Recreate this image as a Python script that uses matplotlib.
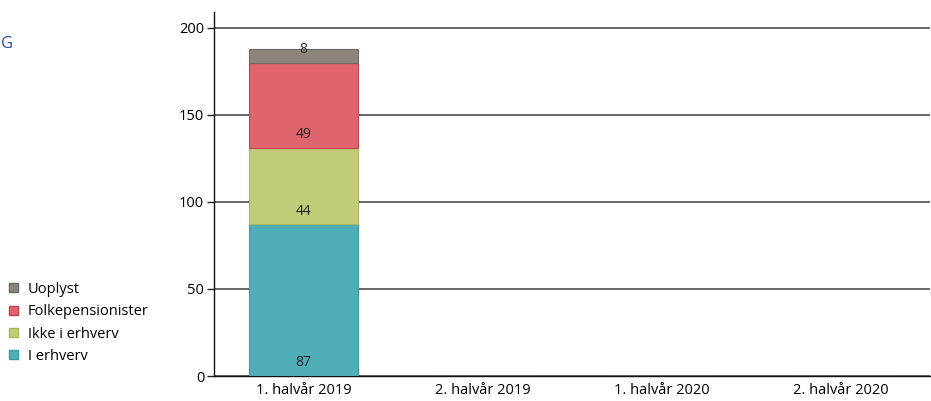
import matplotlib
matplotlib.use("Agg")
import matplotlib.pyplot as plt
from matplotlib.patches import Patch
import numpy as np

categories = ["1. halvår 2019", "2. halvår 2019", "1. halvår 2020", "2. halvår 2020"]
series_names = ["I erhverv", "Ikke i erhverv", "Folkepensionister", "Uoplyst"]
i_erhverv = [87, 0, 0, 0]
ikke_i_erhverv = [44, 0, 0, 0]
folkepensionister = [49, 0, 0, 0]
uoplyst = [8, 0, 0, 0]
yticks = [0, 50, 100, 150, 200]

series = [i_erhverv, ikke_i_erhverv, folkepensionister, uoplyst]
colors = ["#50AEB8", "#C2CB78", "#E0646E", "#8C857C"]
edges = ["#3A9AA4", "#AAB85A", "#C84452", "#706860"]

plt.rcParams['font.family'] = ['Open Sans', 'DejaVu Sans']

fig = plt.figure(figsize=(9.31, 4.01), dpi=100)
ax = fig.add_axes([214/931, 25/401, 716/931, 364/401])

x = np.arange(len(categories))
bottom = np.zeros(len(categories))
for vals, c, ec in zip(series, colors, edges):
    v = np.array(vals, dtype=float)
    ax.bar(x, v, width=0.61, bottom=bottom, color=c, edgecolor=ec, linewidth=0.8, zorder=3)
    for xi, vi, bi in zip(x, v, bottom):
        if vi > 0:
            ax.annotate(str(int(vi)), (xi, bi), xytext=(0, 9.5), textcoords='offset points',
                        ha='center', va='center', fontsize=10, color='#222222', zorder=4)
    bottom += v

ax.set_xlim(-0.5, len(categories) - 0.5)
ax.set_ylim(0, 209)
ax.set_yticks(yticks)
ax.yaxis.grid(True, color='#404040', linewidth=1.1, zorder=0)
ax.set_axisbelow(True)
ax.set_xticks(x)
ax.set_xticklabels(categories)
ax.tick_params(axis='x', length=0, labelsize=10.5, pad=5)
ax.tick_params(axis='y', length=5, width=1, labelsize=10.5, pad=2, color='#222222')
for s in ['top', 'right']:
    ax.spines[s].set_visible(False)
ax.spines['left'].set_color('#111111')
ax.spines['bottom'].set_color('#111111')
ax.spines['left'].set_linewidth(1.0)
ax.spines['bottom'].set_linewidth(1.0)

handles = [Patch(facecolor=c, edgecolor=ec, label=n) for n, c, ec in zip(series_names, colors, edges)]
handles = handles[::-1]
fig.legend(handles=handles, loc='upper left', bbox_to_anchor=(9/931, 1 - 282/401),
           frameon=False, fontsize=10.5, handlelength=0.6, handleheight=0.6,
           handletextpad=0.7, labelspacing=0.5, borderpad=0, borderaxespad=0)

fig.text(0.5/931, 1 - 44/401, "G", color="#2F4F9F", fontsize=12, ha='left', va='center')

fig.savefig("out.png", dpi=100)
